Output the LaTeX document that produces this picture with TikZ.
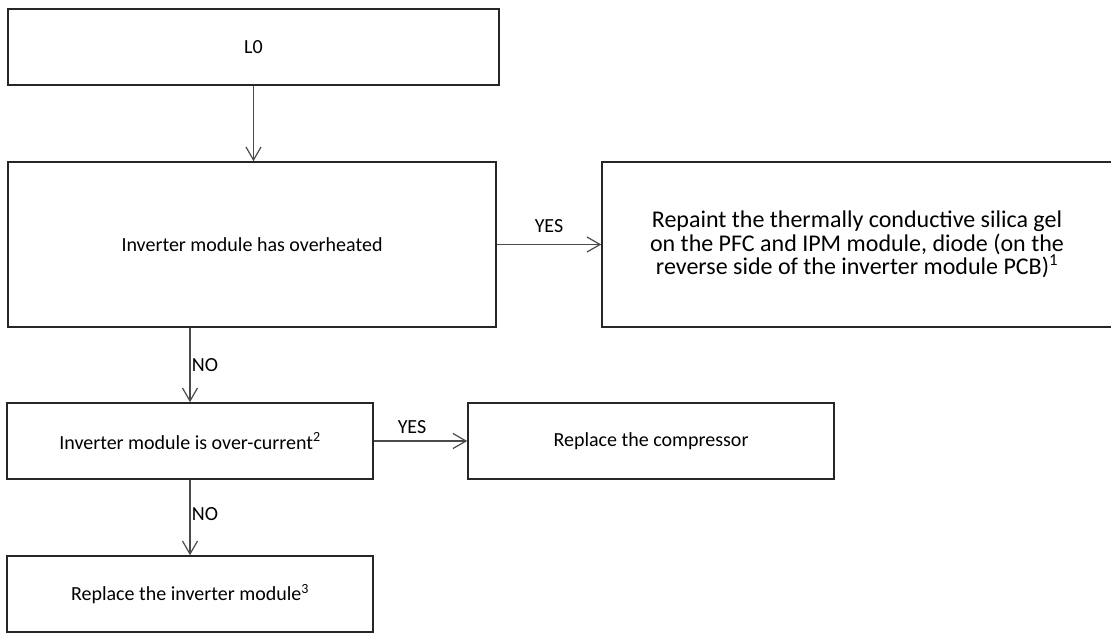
\documentclass[tikz,border=0pt]{standalone}
\usepackage{fontspec}
\setmainfont{Carlito}
\usetikzlibrary{arrows.meta,calc}
\definecolor{ink}{HTML}{262626}
\definecolor{wire}{HTML}{4A4A4A}

\begin{document}
\begin{tikzpicture}[x=1pt,y=-1pt,
  box/.style={draw=ink,line width=1.6pt,fill=white,inner sep=0pt,align=center,
    font=\fontsize{20}{22}\selectfont},
  flow/.style={wire,line width=1.3pt,
    -{Straight Barb[length=13pt,width=15pt,line width=1.2pt]}},
  lbl/.style={font=\fontsize{20}{22}\selectfont,inner sep=0pt}]
  \useasboundingbox (0,0) rectangle (1111,633);
  \clip (0,0) rectangle (1111,633);
  % Left column
  \node[box,minimum width=491pt,minimum height=76pt] (l0) at (253.5,47) {L0};
  \node[box,minimum width=488pt,minimum height=165pt] (heat) at (252,244.5)
    {Inverter module has overheated};
  \node[box,minimum width=366pt,minimum height=76pt] (over) at (190,441)
    {Inverter module is over-current\textsuperscript{2}};
  \node[box,minimum width=366pt,minimum height=76pt] (inv) at (190,594)
    {Replace the inverter module\textsuperscript{3}};
  % Right column
  \node[box,minimum width=510pt,minimum height=165pt,
    font=\fontsize{24}{23.5}\selectfont] (paint) at (857,244.5)
    {Repaint the thermally conductive silica gel\\
     on the PFC and IPM module, diode (on the\\
     reverse side of the inverter module PCB)\textsuperscript{1}};
  \node[box,minimum width=366pt,minimum height=76pt] (comp) at (651,441)
    {Replace the compressor};
  % Connectors
  \draw[flow] (l0.south) -- (l0.south |- heat.north);
  \draw[flow] (heat.east) -- (paint.west);
  \draw[flow] (over.north |- heat.south) -- (over.north);
  \draw[flow] (over.east) -- (comp.west);
  \draw[flow] (over.south) -- (inv.north);
  % Labels
  \node[lbl] (yes1) at (549,226) {YES};
  \node[lbl] (no1) at (205,365) {NO};
  \node[lbl] (yes2) at (412,427) {YES};
  \node[lbl] (no2) at (205,514) {NO};
\end{tikzpicture}
\end{document}
